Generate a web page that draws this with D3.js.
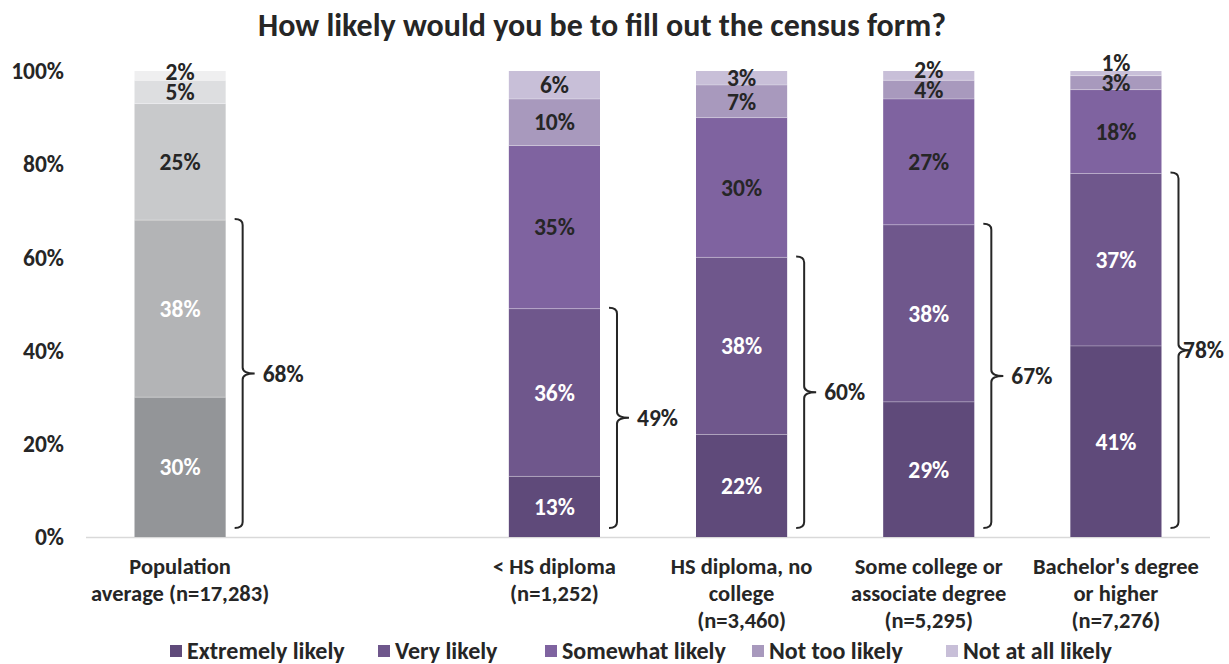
<!DOCTYPE html>
<html><head><meta charset="utf-8">
<script src="https://cdn.jsdelivr.net/npm/d3@7"></script>
<style>
body{margin:0;background:#fff;}
svg text{font-family:Carlito,"Open Sans","Noto Sans",sans-serif;font-weight:bold;fill:#262626;}
</style></head>
<body><svg id="c" width="1229" height="664"></svg>
<script>
const title = "How likely would you be to fill out the census form?";
const categories = ["pop", "gap", "lths", "hs", "some", "ba"];
const categoryLabels = [
  ["Population", "average (n=17,283)"],
  [],
  ["< HS diploma", "(n=1,252)"],
  ["HS diploma, no", "college", "(n=3,460)"],
  ["Some college or", "associate degree", "(n=5,295)"],
  ["Bachelor's degree", "or higher", "(n=7,276)"]
];
const seriesNames = ["Extremely likely", "Very likely", "Somewhat likely", "Not too likely", "Not at all likely"];
const popValues = [30, 38, 25, 5, 2];
const ltHsValues = [13, 36, 35, 10, 6];
const hsValues = [22, 38, 30, 7, 3];
const someCollegeValues = [29, 38, 27, 4, 2];
const bachelorValues = [41, 37, 18, 3, 1];
const topTwoTotals = [68, null, 49, 60, 67, 78];
const yTicks = [0, 20, 40, 60, 80, 100];

const purple = ["#5f4a7a", "#6f578c", "#7f63a0", "#a899bd", "#c8bfd8"];
const grey = ["#939598", "#b3b4b6", "#c8c9cb", "#dddee0", "#efeff0"];

const rows = [
  {key: "pop", values: popValues, colors: grey},
  {key: "lths", values: ltHsValues, colors: purple},
  {key: "hs", values: hsValues, colors: purple},
  {key: "some", values: someCollegeValues, colors: purple},
  {key: "ba", values: bachelorValues, colors: purple}
];

const svg = d3.select("#c");
const x = d3.scaleBand().domain(categories).range([86.5, 1209.5]).paddingInner(0.513).paddingOuter(0.2565);
const y = d3.scaleLinear().domain([0, 100]).range([537, 71]);

svg.append("text").attr("x", 602).attr("y", 36).attr("text-anchor", "middle")
  .style("font-size", "32px").text(title);

// y axis labels
svg.append("g").selectAll("text").data(yTicks).join("text")
  .attr("x", 64).attr("y", d => y(d)).attr("dy", "0.35em").attr("text-anchor", "end")
  .style("font-size", "23.5px").text(d => d + "%");

// baseline
svg.append("line").attr("x1", 86).attr("x2", 1210).attr("y1", y(0) + 0.5).attr("y2", y(0) + 0.5)
  .attr("stroke", "#d9d9d9").attr("stroke-width", 1.5);

// bars
rows.forEach(r => {
  let cum = 0;
  const segs = r.values.map((v, i) => { const s = {v, i, y0: cum, y1: cum + v}; cum += v; return s; });
  const g = svg.append("g");
  g.selectAll("rect").data(segs).join("rect")
    .attr("x", x(r.key)).attr("width", x.bandwidth())
    .attr("y", d => y(d.y1)).attr("height", d => y(d.y0) - y(d.y1))
    .attr("fill", d => r.colors[d.i]);
  g.selectAll("line.sep").data(segs.slice(1)).join("line").attr("class", "sep")
    .attr("x1", x(r.key)).attr("x2", x(r.key) + x.bandwidth())
    .attr("y1", d => y(d.y0)).attr("y2", d => y(d.y0))
    .attr("stroke", "rgba(255,255,255,0.3)").attr("stroke-width", 1);
  let prev = Infinity;
  segs.forEach(d => {
    let cy = (y(d.y0) + y(d.y1)) / 2;
    if (cy > prev - 20) cy = prev - 20;
    prev = cy;
    d.ly = cy;
  });
  g.selectAll("text").data(segs).join("text")
    .attr("x", x(r.key) + x.bandwidth() / 2).attr("y", d => d.ly).attr("dy", "0.35em")
    .attr("text-anchor", "middle").style("font-size", "23.5px")
    .style("fill", d => d.i < 2 ? "#ffffff" : "#262626")
    .text(d => d.v + "%");
});

// brackets
categories.forEach((c, i) => {
  const t = topTwoTotals[i];
  if (t == null) return;
  const bx = x(c) + x.bandwidth() + 17;
  const yt = y(t) - 1, yb = y(0) - 9, ym = (yt + yb) / 2;
  const h = 8, r = 6;
  const p = `M${bx - h},${yt} Q${bx},${yt} ${bx},${yt + r} L${bx},${ym - r} Q${bx},${ym} ${bx + h + 4},${ym} M${bx + h + 4},${ym} Q${bx},${ym} ${bx},${ym + r} L${bx},${yb - r} Q${bx},${yb} ${bx - h},${yb}`;
  svg.append("path").attr("d", p).attr("fill", "none").attr("stroke", "#262626").attr("stroke-width", 2);
  const lx = Math.min(bx + 20, 1183);
  svg.append("text").attr("x", lx).attr("y", ym).attr("dy", "0.35em")
    .style("font-size", "23.5px").text(t + "%");
});

// x labels
categories.forEach((c, i) => {
  const lines = categoryLabels[i];
  svg.append("g").selectAll("text").data(lines).join("text")
    .attr("x", x(c) + x.bandwidth() / 2).attr("y", (d, j) => 566 + j * 27).attr("dy", "0.35em")
    .attr("text-anchor", "middle").style("font-size", "22.5px").text(d => d);
});

// legend
const legendX = [170, 378, 545, 752, 946];
const lg = svg.append("g");
seriesNames.forEach((n, i) => {
  lg.append("rect").attr("x", legendX[i]).attr("y", 645).attr("width", 12).attr("height", 12).attr("fill", purple[i]);
  lg.append("text").attr("x", legendX[i] + 17).attr("y", 651).attr("dy", "0.35em")
    .style("font-size", "24px").text(n);
});
</script></body></html>
